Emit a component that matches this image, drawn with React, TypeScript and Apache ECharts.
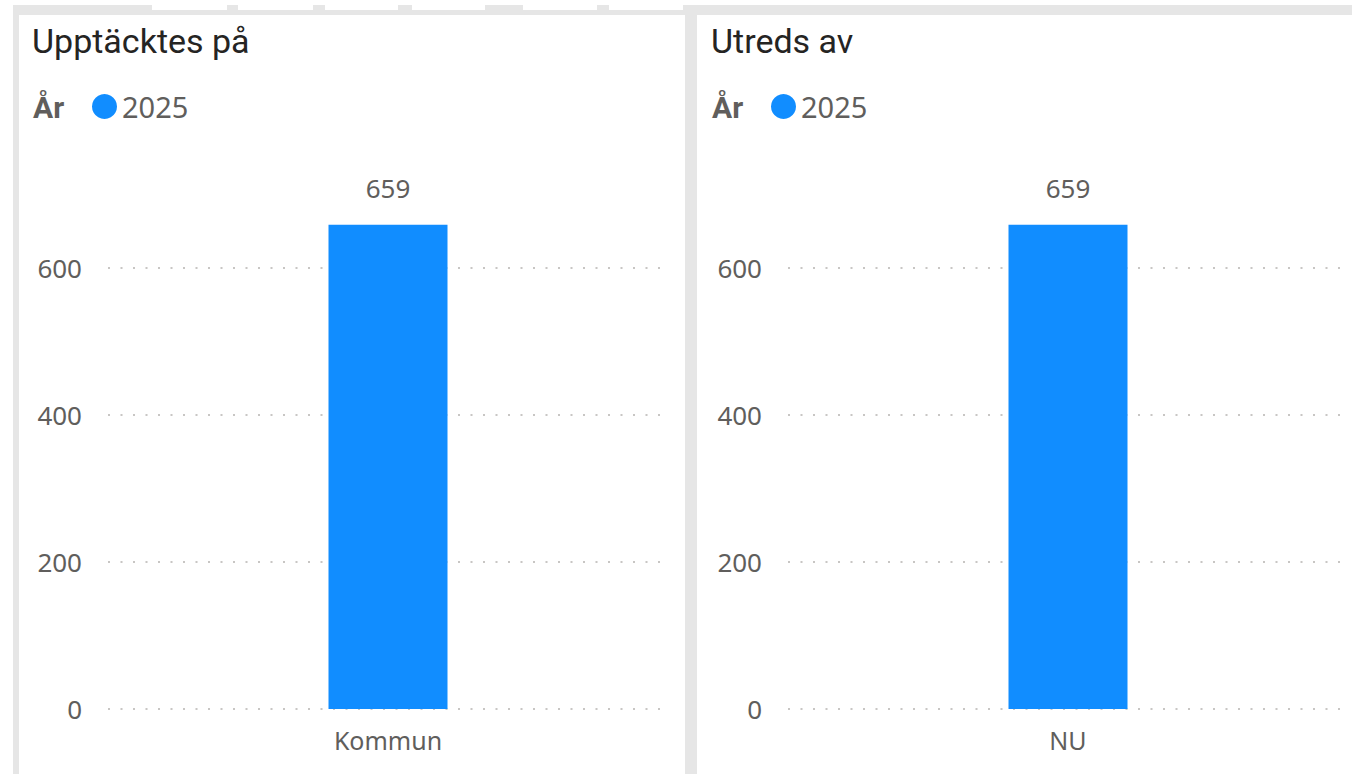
import React, { useEffect, useRef } from "react";
import * as echarts from "echarts";

const panelTitles = ["Upptäcktes på", "Utreds av"];
const legendTitle = "År";
const seriesName = "2025";
const categoriesLeft = ["Kommun"];
const categoriesRight = ["NU"];
const valuesLeft = [659];
const valuesRight = [659];
const yTicks = [0, 200, 400, 600];

const BLUE = "#118DFF";
const GREY_TEXT = "#605E5C";
const TITLE = "#252423";
const FRAME = "#E6E6E6";
const NUM_FONT = "'Noto Sans', 'Open Sans', sans-serif";
const TITLE_FONT = "Roboto, 'Noto Sans', sans-serif";

const tabs = [
  [152, 227],
  [238, 313],
  [325, 398],
  [412, 485],
  [523, 597],
  [609, 683],
];

export default function App() {
  const ref = useRef<HTMLDivElement>(null);
  useEffect(() => {
    if (!ref.current) return;
    const chart = echarts.init(ref.current, undefined, { renderer: "svg" });
    const panelX = [0, 680];
    const gridLeft = [108, 788];
    const yAxisCommon = (gi: number) => ({
      type: "value" as const,
      gridIndex: gi,
      min: 0,
      max: 700,
      interval: 200,
      axisLine: { show: false },
      axisTick: { show: false },
      axisLabel: {
        showMaxLabel: false,
        color: GREY_TEXT,
        fontSize: 26,
        fontFamily: NUM_FONT,
        margin: 26,
        formatter: (v: number) => (yTicks.includes(v) ? String(v) : ""),
      },
      splitLine: {
        show: true,
        showMaxLine: false,
        lineStyle: { color: "#C8C6C4", type: [2, 10.5], width: 2 },
      },
    });
    const xAxisCommon = (gi: number, data: string[]) => ({
      type: "category" as const,
      gridIndex: gi,
      data,
      axisLine: { show: false },
      axisTick: { show: false },
      axisLabel: {
        color: GREY_TEXT,
        fontSize: 25,
        fontFamily: NUM_FONT,
        margin: 18,
      },
    });
    const barSeries = (gi: number, data: number[]) => ({
      type: "bar" as const,
      name: seriesName,
      xAxisIndex: gi,
      yAxisIndex: gi,
      data,
      barWidth: 119,
      itemStyle: { color: BLUE },
      label: {
        show: true,
        position: "top" as const,
        distance: 24,
        color: GREY_TEXT,
        fontSize: 26,
        fontFamily: NUM_FONT,
      },
    });

    const graphics: any[] = [
      { type: "rect", shape: { x: 13, y: 5, width: 1339, height: 769 }, style: { fill: FRAME }, z: -10 },
      ...tabs.map(([a, b]) => ({
        type: "rect",
        shape: { x: a, y: 0, width: b - a, height: 10 },
        style: { fill: "#FFFFFF" },
        z: -9,
      })),
      { type: "rect", shape: { x: 19, y: 15, width: 666, height: 759 }, style: { fill: "#FFFFFF" }, z: -9 },
      { type: "rect", shape: { x: 697, y: 15, width: 655, height: 759 }, style: { fill: "#FFFFFF" }, z: -9 },
    ];
    panelTitles.forEach((t, i) => {
      graphics.push({
        type: "text",
        x: 32 + panelX[i] - (i === 1 ? 1 : 0),
        y: 41,
        style: {
          text: t,
          fill: TITLE,
          font: `400 34px ${TITLE_FONT}`,
          verticalAlign: "middle",
          align: "left",
        },
      });
      graphics.push({
        type: "text",
        x: 33 + panelX[i] - (i === 1 ? 1 : 0),
        y: 107,
        style: {
          text: legendTitle,
          fill: GREY_TEXT,
          font: `700 30px ${TITLE_FONT}`,
          verticalAlign: "middle",
          align: "left",
        },
      });
    });

    chart.setOption({
      animation: false,
      backgroundColor: "#FFFFFF",
      graphic: graphics,
      legend: [0, 1].map((i) => ({
        data: [seriesName],
        left: 92 + panelX[i] - (i === 1 ? 1 : 0),
        top: 92,
        padding: 0,
        icon: "circle",
        itemWidth: 25,
        itemHeight: 25,
        itemGap: 0,
        selectedMode: false,
        textStyle: { color: GREY_TEXT, fontSize: 29, fontFamily: NUM_FONT },
      })),
      grid: [0, 1].map((i) => ({
        left: gridLeft[i],
        width: 560,
        top: 194.5,
        bottom: 65,
        containLabel: false,
      })),
      xAxis: [xAxisCommon(0, categoriesLeft), xAxisCommon(1, categoriesRight)],
      yAxis: [yAxisCommon(0), yAxisCommon(1)],
      series: [barSeries(0, valuesLeft), barSeries(1, valuesRight)],
    });
    return () => chart.dispose();
  }, []);
  return (
    <div
      ref={ref}
      style={{ position: "fixed", left: 0, top: 0, width: 1352, height: 774 }}
    />
  );
}
